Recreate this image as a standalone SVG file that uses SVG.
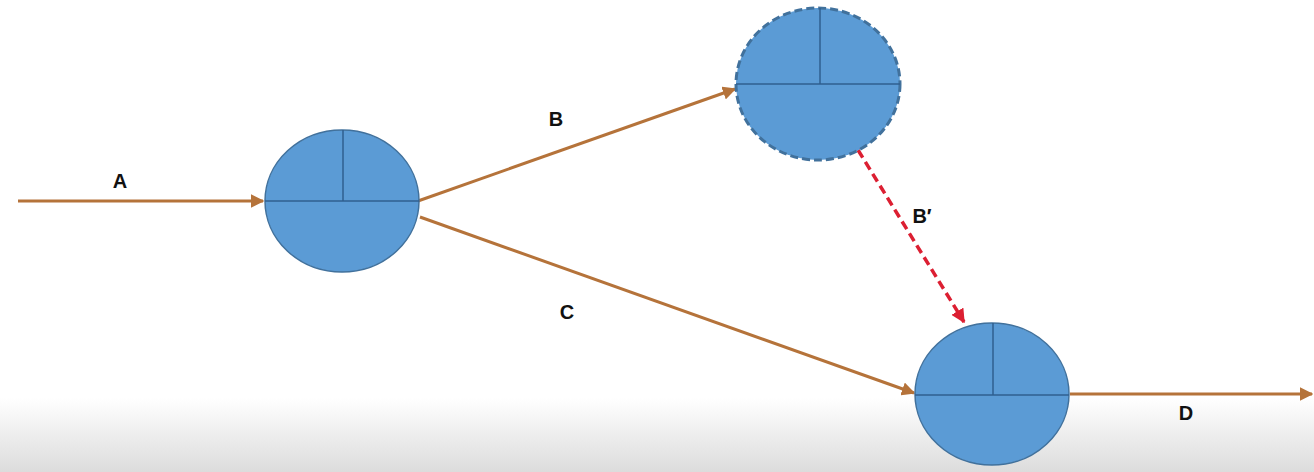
<svg xmlns="http://www.w3.org/2000/svg" width="1314" height="472" viewBox="0 0 1314 472">
<style>
.node{fill:#5b9bd5;stroke:#41719c;stroke-width:1.5}
.div{stroke:#2f5f8f;stroke-width:1.5;fill:none}
.arr{stroke:#b5733a;stroke-width:3;fill:none}
.dash{stroke:#dc1f32;stroke-width:3.5;fill:none;stroke-dasharray:9 5}
.lbl{font-family:"Liberation Sans",Arial,sans-serif;font-weight:bold;font-size:20px;fill:#111;text-anchor:middle}
</style>
<defs>
<linearGradient id="bg" x1="0" y1="0" x2="0" y2="1">
<stop offset="0" stop-color="#ffffff"/>
<stop offset="1" stop-color="#dcdcdc"/>
</linearGradient>
<marker id="ah" viewBox="0 0 10 10" refX="9" refY="5" markerWidth="4.5" markerHeight="4.5" orient="auto" markerUnits="strokeWidth">
<path d="M0,0 L10,5 L0,10 z" fill="#b5733a"/>
</marker>
<marker id="ahr" viewBox="0 0 10 10" refX="9" refY="5" markerWidth="4" markerHeight="4" orient="auto" markerUnits="strokeWidth">
<path d="M0,0 L10,5 L0,10 z" fill="#dc1f32"/>
</marker>
</defs>
<rect width="1314" height="472" fill="#fff"/>
<rect x="0" y="398" width="1314" height="74" fill="url(#bg)"/>
<g id="connectors">
<line class="arr" x1="18" y1="201" x2="263" y2="201" marker-end="url(#ah)"/>
<line class="arr" x1="418" y1="201" x2="735" y2="89" marker-end="url(#ah)"/>
<line class="arr" x1="420" y1="217" x2="914" y2="393" marker-end="url(#ah)"/>
<line class="dash" x1="858" y1="150" x2="964" y2="322" marker-end="url(#ahr)"/>
<line class="arr" x1="1070" y1="394" x2="1312" y2="394" marker-end="url(#ah)"/>
<text class="lbl" x="120" y="188">A</text>
<text class="lbl" x="556" y="126">B</text>
<text class="lbl" x="567" y="319">C</text>
<text class="lbl" x="922" y="223">B′</text>
<text class="lbl" x="1186" y="420">D</text>
</g>
<g id="node1">
<ellipse class="node" cx="342" cy="201" rx="77" ry="71"/>
<line class="div" x1="265" y1="201" x2="419" y2="201"/>
<line class="div" x1="343" y1="130" x2="343" y2="201"/>
</g>
<g id="node2">
<ellipse class="node" cx="818" cy="84" rx="82" ry="76" style="stroke-dasharray:8 4;stroke-width:3"/>
<line class="div" x1="736" y1="84" x2="900" y2="84"/>
<line class="div" x1="820" y1="8" x2="820" y2="84"/>
</g>
<g id="node3">
<ellipse class="node" cx="992" cy="394" rx="77" ry="71"/>
<line class="div" x1="915" y1="395" x2="1069" y2="395"/>
<line class="div" x1="993" y1="323" x2="993" y2="395"/>
</g>
</svg>
